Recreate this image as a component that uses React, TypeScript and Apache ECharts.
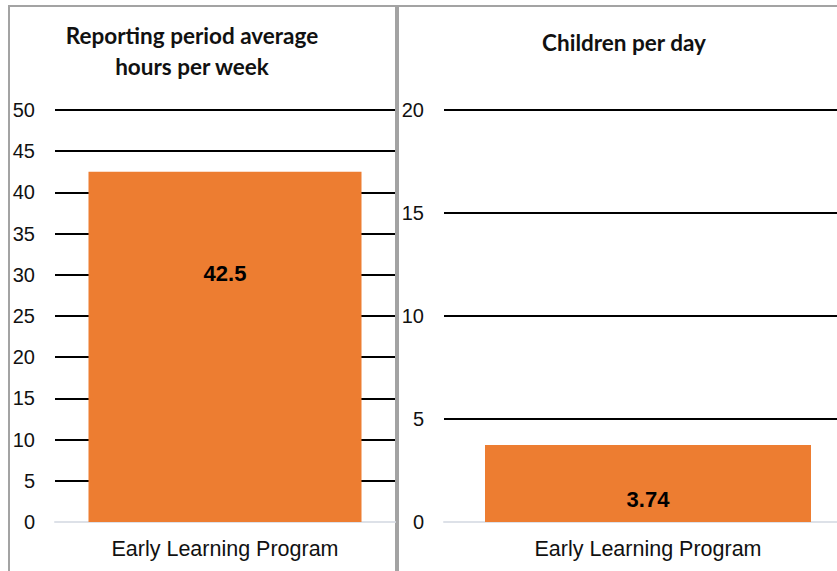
import React, { useEffect, useRef } from "react";
import * as echarts from "echarts";

const categories = ["Early Learning Program"];
const hoursPerWeek = [42.5];
const childrenPerDay = [3.74];
const leftTitle = "Reporting period average\nhours per week";
const rightTitle = "Children per day";

const BAR = "#ED7D31";
const ZERO = "#dde1e8";

function splitColors(n: number) {
  const arr = [ZERO];
  for (let i = 1; i < n; i++) arr.push("#000000");
  return arr;
}

export default function App() {
  const ref = useRef<HTMLDivElement>(null);
  useEffect(() => {
    if (!ref.current) return;
    const chart = echarts.init(ref.current, null, { renderer: "svg" });
    const axisLabel = {
      color: "#111",
      fontFamily: "Liberation Sans, Arial, sans-serif",
      fontSize: 20,
      margin: 20,
    };
    const xLabel = {
      color: "#111",
      fontFamily: "Liberation Sans, Arial, sans-serif",
      fontSize: 21.5,
      margin: 16,
    };
    chart.setOption({
      animation: false,
      backgroundColor: "#ffffff",
      grid: [
        { left: 55, top: 110, width: 340, height: 412 },
        { left: 444, top: 110, width: 408, height: 412 },
      ],
      xAxis: [
        {
          gridIndex: 0,
          type: "category",
          data: categories,
          axisTick: { show: false },
          axisLine: { show: true, lineStyle: { color: ZERO, width: 2 } },
          axisLabel: xLabel,
        },
        {
          gridIndex: 1,
          type: "category",
          data: categories,
          axisTick: { show: false },
          axisLine: { show: true, lineStyle: { color: ZERO, width: 2 } },
          axisLabel: xLabel,
        },
      ],
      yAxis: [
        {
          gridIndex: 0,
          type: "value",
          min: 0,
          max: 50,
          interval: 5,
          axisLine: { show: false },
          axisTick: { show: false },
          axisLabel,
          splitLine: { lineStyle: { color: splitColors(11), width: 2 } },
        },
        {
          gridIndex: 1,
          type: "value",
          min: 0,
          max: 20,
          interval: 5,
          axisLine: { show: false },
          axisTick: { show: false },
          axisLabel,
          splitLine: { lineStyle: { color: splitColors(5), width: 2 } },
        },
      ],
      series: [
        {
          type: "bar",
          xAxisIndex: 0,
          yAxisIndex: 0,
          data: hoursPerWeek,
          barWidth: 273,
          itemStyle: { color: BAR },
          label: {
            show: true,
            position: ["50%", 102],
            align: "center",
            verticalAlign: "middle",
            color: "#000",
            fontWeight: "bold",
            fontSize: 22,
            fontFamily: "Liberation Sans, Arial, sans-serif",
          },
        },
        {
          type: "bar",
          xAxisIndex: 1,
          yAxisIndex: 1,
          data: childrenPerDay,
          barWidth: 326,
          itemStyle: { color: BAR },
          label: {
            show: true,
            position: ["50%", 55],
            align: "center",
            verticalAlign: "middle",
            color: "#000",
            fontWeight: "bold",
            fontSize: 22,
            fontFamily: "Liberation Sans, Arial, sans-serif",
          },
        },
      ],
      graphic: [
        {
          type: "rect",
          shape: { x: 9, y: 6, width: 387, height: 600 },
          style: { fill: "none", stroke: "#a3a3a3", lineWidth: 2 },
          silent: true,
        },
        {
          type: "rect",
          shape: { x: 398, y: 6, width: 500, height: 600 },
          style: { fill: "none", stroke: "#a3a3a3", lineWidth: 2 },
          silent: true,
        },
        {
          type: "text",
          x: 192,
          y: 51,
          style: {
            text: leftTitle,
            align: "center",
            verticalAlign: "middle",
            font: "bold 22.5px Lato, 'Open Sans', sans-serif",
            lineHeight: 31,
            fill: "#111",
          },
        },
        {
          type: "text",
          x: 624,
          y: 42,
          style: {
            text: rightTitle,
            align: "center",
            verticalAlign: "middle",
            font: "bold 22.5px Lato, 'Open Sans', sans-serif",
            fill: "#111",
          },
        },
      ],
    });
    return () => chart.dispose();
  }, []);
  return (
    <div
      style={{
        position: "fixed",
        left: 0,
        top: 0,
        width: 837,
        height: 571,
        overflow: "hidden",
        background: "#fff",
      }}
    >
      <div ref={ref} style={{ width: 900, height: 571 }} />
    </div>
  );
}
